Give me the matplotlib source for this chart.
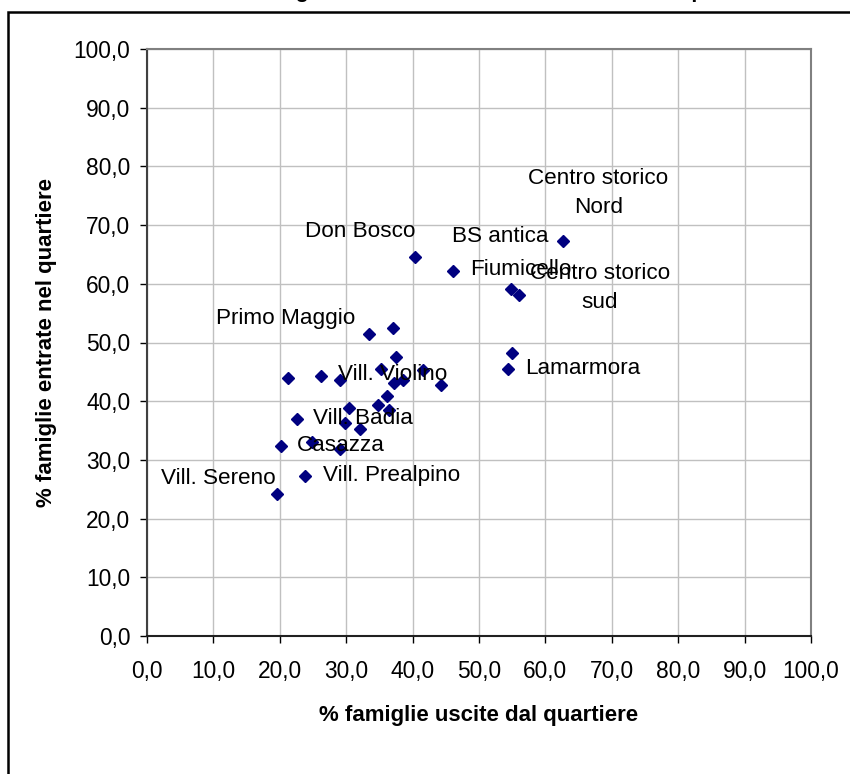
import matplotlib
matplotlib.use("Agg")
import matplotlib.pyplot as plt
from matplotlib.patches import Rectangle

plt.rcParams['font.family'] = ['Liberation Sans', 'DejaVu Sans']

# ---- data ----
quartieri = ["Don Bosco", "Fiumicello", "Centro storico\nNord", "BS antica",
             "Centro storico\nsud", "", "Lamarmora", "Primo Maggio", "", "",
             "", "Vill. Violino", "", "", "", "", "", "", "", "", "", "",
             "Vill. Badia", "", "", "Casazza", "", "", "Vill. Prealpino",
             "Vill. Sereno"]
uscite = [40.4, 46.1, 62.7, 54.8, 56.0, 55.0, 54.4, 33.4, 37.0, 37.5,
          21.2, 26.2, 29.1, 35.2, 41.6, 38.6, 37.2, 44.3, 36.1, 34.8,
          30.4, 36.4, 22.6, 29.8, 32.1, 20.2, 24.8, 29.1, 23.8, 19.6]
entrate = [64.6, 62.2, 67.3, 59.1, 58.1, 48.2, 45.5, 51.4, 52.5, 47.5,
           44.0, 44.3, 43.6, 45.5, 45.3, 43.6, 43.1, 42.8, 40.9, 39.4,
           38.8, 38.5, 37.0, 36.3, 35.3, 32.4, 33.0, 31.9, 27.3, 24.2]
ticks = [0, 10, 20, 30, 40, 50, 60, 70, 80, 90, 100]
tick_labels = ["0,0", "10,0", "20,0", "30,0", "40,0", "50,0", "60,0",
               "70,0", "80,0", "90,0", "100,0"]
titolo = "Famiglie entrate e uscite nel 2006 a Brescia per zona"
xlab = "% famiglie uscite dal quartiere"
ylab = "% famiglie entrate nel quartiere"

# label offsets in pixels (dx, dy up positive), alignment
label_style = {
    "Don Bosco": (-55, 25, "center"),
    "Fiumicello": (17, 1, "left"),
    "Centro storico\nNord": (35, 48, "center"),
    "BS antica": (-11, 53, "center"),
    "Centro storico\nsud": (81, 7, "center"),
    "Lamarmora": (17, 0, "left"),
    "Primo Maggio": (-83, 16, "center"),
    "Vill. Violino": (17, 1, "left"),
    "Vill. Badia": (16, 0, "left"),
    "Casazza": (16, 0, "left"),
    "Vill. Prealpino": (18, 0, "left"),
    "Vill. Sereno": (-59, 15, "center"),
}

W, H = 850, 774
fig = plt.figure(figsize=(W / 100, H / 100), dpi=100)
fig.patch.set_facecolor("white")

# outer chart border (extends beyond the visible crop)
fig.patches.append(Rectangle((8 / W, -0.1), 1.2, 1 - 12 / H + 0.1,
                             transform=fig.transFigure, fill=False,
                             edgecolor="black", linewidth=1.8, zorder=0))

ax = fig.add_axes([147 / W, 1 - 636 / H, (811 - 147) / W, (636 - 49) / H])
ax.set_xlim(0, 100)
ax.set_ylim(0, 100)
ax.set_xticks(ticks)
ax.set_yticks(ticks)
ax.set_xticklabels(tick_labels)
ax.set_yticklabels(tick_labels)
ax.grid(True, color="#c0c0c0", linewidth=1.0)
ax.set_axisbelow(True)
ax.tick_params(axis="both", direction="out", length=5, width=1,
               labelsize=16.4, colors="black")
ax.tick_params(axis="y", pad=7)
ax.tick_params(axis="x", pad=12)
ax.spines["left"].set_color("#404040")
ax.spines["bottom"].set_color("#202020")
ax.spines["top"].set_color("#808080")
ax.spines["right"].set_color("#808080")
for s in ax.spines.values():
    s.set_linewidth(1.5)

ax.plot(uscite, entrate, linestyle="none", marker="D", markersize=6.6,
        color="#000080", markeredgecolor="#000080", zorder=3, clip_on=False)

for name, x, y in zip(quartieri, uscite, entrate):
    if not name:
        continue
    dx, dy, ha = label_style[name]
    ax.annotate(name, (x, y), xytext=(dx * 0.72, dy * 0.72),
                textcoords="offset points", ha=ha, va="center",
                fontsize=16.2, color="black", linespacing=1.55,
                multialignment="center", zorder=4)

ax.set_xlabel(xlab, fontsize=16, fontweight="bold", labelpad=16)
ax.set_ylabel(ylab, fontsize=16, fontweight="bold", labelpad=12)

fig.text(246 / W, 1 + 2.5 / H, titolo, ha="left", va="baseline",
         fontsize=15.3, fontweight="bold")

fig.savefig("out.png", dpi=100)
